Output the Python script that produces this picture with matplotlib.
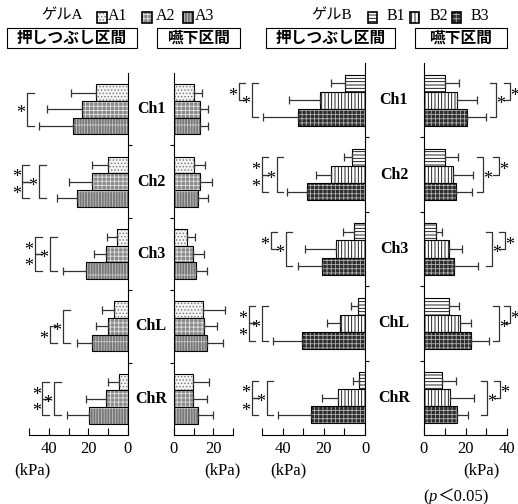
import matplotlib
matplotlib.use('Agg')
import matplotlib.pyplot as plt
import matplotlib.transforms as mtransforms
from matplotlib.patches import Rectangle
import numpy as np

plt.rcParams['font.family'] = ['Liberation Serif', 'Noto Sans CJK JP']
plt.rcParams['hatch.linewidth'] = 0.6

# データ (kPa) : 行 = A1/A2/A3 または B1/B2/B3, 列 = Ch1, Ch2, Ch3, ChL, ChR
channels = ['Ch1', 'Ch2', 'Ch3', 'ChL', 'ChR']
a_names = ['A1', 'A2', 'A3']
b_names = ['B1', 'B2', 'B3']

a_press_mean = [[16, 10, 5.5, 7, 4.5], [23, 18, 11, 10, 11], [28, 26, 21, 18, 19.5]]
a_press_sd = [[13, 8, 5, 6, 5.5], [18, 12, 6, 6, 10], [17, 10, 12, 8, 11.5]]
a_swal_mean = [[10, 10, 6.5, 14.5, 9.5], [13, 13, 9.5, 15, 9.5], [13, 12, 11, 17, 12]]
a_swal_sd = [[4, 6, 4, 11.5, 8.5], [4.5, 6.5, 5.5, 7, 7.5], [4.5, 5.5, 6, 8, 8]]
b_press_mean = [[9.5, 6.5, 5.3, 3.5, 3], [22, 16.5, 14, 12, 13], [32.5, 28, 21, 30.5, 26]]
b_press_sd = [[7, 3.5, 5.4, 3.5, 3], [15, 7.5, 15, 6.5, 8], [17, 10, 11.5, 14, 16]]
b_swal_mean = [[10, 10, 5.8, 12, 8.7], [16, 14, 12, 17.4, 12.6], [20.5, 15.5, 14.5, 22.7, 16]]
b_swal_sd = [[7, 6.5, 3, 5, 6.8], [9.5, 9.5, 6.5, 5.3, 11.4], [9.5, 7.5, 11.5, 8.8, 5]]

# 有意差 (p<0.05): (チャンネル, 群i, 群j)
sig_a_press = [(0, 0, 2), (1, 0, 1), (1, 1, 2), (1, 0, 2), (2, 0, 1), (2, 1, 2), (2, 0, 2),
               (3, 1, 2), (3, 0, 2), (4, 0, 1), (4, 1, 2), (4, 0, 2)]
sig_b_press = [(0, 0, 1), (0, 0, 2), (1, 0, 1), (1, 1, 2), (1, 0, 2), (2, 0, 1), (2, 0, 2),
               (3, 0, 1), (3, 1, 2), (3, 0, 2), (4, 0, 1), (4, 1, 2), (4, 0, 2)]
sig_b_swal = [(0, 0, 2), (0, 0, 1), (1, 0, 2), (1, 0, 1), (2, 0, 2), (2, 0, 1),
              (3, 0, 2), (3, 0, 1), (4, 0, 2), (4, 0, 1)]

# ブラケットの位置 (x, kPa)
pos_a_press = [51, 53.5, 53.5, 45, 47, 47, 39.4, 39.4, 33, 43.4, 43.4, 37.4]
pos_b_press = [61.2, 54.9, 50, 50, 42.7, 45.6, 38.3, 56.3, 56.3, 50, 54.9, 54.9, 47.6]
pos_b_swal = [34.8, 41.5, 28.5, 36.2, 32.8, 39.1, 36.2, 41.5, 30.4, 36.7]

style_a = [dict(fc='#f4f4f4', hatch='.....', hc='#777777'),
           dict(fc='#8a8a8a', hatch='++++', hc='#e2e2e2'),
           dict(fc='#777777', hatch='|||||+', hc='#c4c4c4')]
style_b = [dict(fc='white', hatch='-----', hc='black'),
           dict(fc='white', hatch='|||||', hc='black'),
           dict(fc='#2c2c2c', hatch='++++', hc='#b0b0b0')]

W, H = 518, 504
BH = 0.23
fig = plt.figure(figsize=(W / 100, H / 100), dpi=100)


def px_ax(x0, x1, y0, y1):
    return fig.add_axes([x0 / W, 1 - y1 / H, (x1 - x0) / W, (y1 - y0) / H])


def panel(ax, means, sds, styles, xmax, side, labels):
    y = np.arange(len(channels))
    for k in range(3):
        yy = y + (k - 1) * BH
        st = styles[k]
        ax.barh(yy, means[k], BH, facecolor=st['fc'], edgecolor=st['hc'], hatch=st['hatch'], linewidth=0)
        ax.barh(yy, means[k], BH, fill=False, edgecolor='black', linewidth=0.8)
        ax.errorbar(means[k], yy, xerr=[np.zeros(len(y)), sds[k]], fmt='none', ecolor='#333333',
                    elinewidth=0.9, capsize=3, capthick=0.9)
    ax.set_ylim(4.5, -0.5)
    ax.spines['top'].set_visible(False)
    if side == 'left':
        ax.set_xlim(xmax, 0)
        ax.spines['left'].set_visible(False)
        ax.yaxis.set_ticks_position('right')
    else:
        ax.set_xlim(0, xmax)
        ax.spines['right'].set_visible(False)
        ax.yaxis.set_ticks_position('left')
    for s in ax.spines.values():
        s.set_linewidth(0.8)
    ax.set_yticks([0.5, 1.5, 2.5, 3.5])
    ax.set_yticklabels([])
    ax.tick_params(axis='y', direction='out', length=3, width=0.8)
    ticks = list(range(0, xmax + 1, 10))
    ax.set_xticks(ticks)
    ax.set_xticklabels([str(t) if t in labels else '' for t in ticks])
    ax.tick_params(axis='x', direction='in', length=5, width=0.8, labelsize=12, pad=4)
    ax.patch.set_alpha(0)


def brackets(ax, sig, pos, tick, star_off):
    for (g, i, j), xl in zip(sig, pos):
        y1 = g + (i - 1) * BH
        y2 = g + (j - 1) * BH
        ax.plot([xl - tick, xl, xl, xl - tick], [y1, y1, y2, y2], color='#333333', lw=0.9, clip_on=False)
        ax.annotate('*', (xl + star_off, (y1 + y2) / 2), xytext=(0, -6.6), textcoords='offset points',
                    ha='center', va='baseline', fontsize=13, annotation_clip=False)


ax_ap = px_ax(29, 128, 73, 435)
ax_as = px_ax(174, 233, 73, 435)
ax_bp = px_ax(262, 365, 63, 435)
ax_bs = px_ax(424, 507, 63, 435)

panel(ax_ap, a_press_mean, a_press_sd, style_a, 50, 'left', [0, 20, 40])
panel(ax_as, a_swal_mean, a_swal_sd, style_a, 30, 'right', [0, 20])
panel(ax_bp, b_press_mean, b_press_sd, style_b, 50, 'left', [0, 20, 40])
panel(ax_bs, b_swal_mean, b_swal_sd, style_b, 40, 'right', [0, 20, 40])

brackets(ax_ap, sig_a_press, pos_a_press, 3.5, 3.0)
brackets(ax_bp, sig_b_press, pos_b_press, 3.0, 3.0)
brackets(ax_bs, sig_b_swal, pos_b_swal, 3.0, 2.3)

# チャンネル名
for ax, xc in [(ax_as, 151), (ax_bs, 394)]:
    tr = mtransforms.blended_transform_factory(fig.transFigure, ax.transData)
    for g, name in enumerate(channels):
        fig.text(xc / W, g, name, transform=tr, ha='center', va='center', fontsize=11.5, fontweight='bold')


# 凡例
def swatch(x, y, w, h, st):
    r = Rectangle((x / W, 1 - (y + h) / H), w / W, h / H, transform=fig.transFigure,
                  facecolor=st['fc'], edgecolor=st['hc'], hatch=st['hatch'], linewidth=0)
    fig.add_artist(r)
    fig.add_artist(Rectangle((x / W, 1 - (y + h) / H), w / W, h / H, transform=fig.transFigure,
                             fill=False, edgecolor='black', linewidth=1.2))


fig.text(62 / W, 1 - 15 / H, 'ゲルA', ha='center', va='center', fontsize=11)
fig.text(332 / W, 1 - 15 / H, 'ゲルB', ha='center', va='center', fontsize=11)
for st, name, xs, xl in zip(style_a, a_names, [97, 142, 183], [108, 156, 195]):
    swatch(xs, 12, 10, 11, st)
    fig.text(xl / W, 1 - 16 / H, name, ha='left', va='center', fontsize=11.5)
for st, name, xs, xl in zip(style_b, b_names, [368, 410, 452], [387, 430, 471]):
    swatch(xs, 12, 9, 11, st)
    fig.text(xl / W, 1 - 16 / H, name, ha='left', va='center', fontsize=11.5)

# 区間の見出し
for x0, x1, title in [(7, 137, '押しつぶし区間'), (157, 240, '嚥下区間'),
                      (266, 395, '押しつぶし区間'), (415, 507, '嚥下区間')]:
    fig.add_artist(Rectangle((x0 / W, 1 - 48 / H), (x1 - x0) / W, 20 / H, transform=fig.transFigure,
                             fill=False, edgecolor='black', linewidth=0.8))
    fig.text((x0 + x1) / 2 / W, 1 - 38 / H, title, ha='center', va='center', fontsize=11.3,
             family='Noto Sans CJK JP', fontweight='bold')

# 単位
for xc in [32, 222, 288, 481]:
    fig.text(xc / W, 1 - 470 / H, '(kPa)', ha='center', va='center', fontsize=12)

t1 = fig.text(423 / W, 1 - 497 / H, '(', ha='left', va='center', fontsize=12)
t2 = ax_bs.annotate('p', xy=(1, 0), xycoords=t1, ha='left', va='bottom', fontsize=12,
                    fontstyle='italic', annotation_clip=False)
ax_bs.annotate('＜0.05)', xy=(1, 0), xycoords=t2, ha='left', va='bottom', fontsize=12,
               annotation_clip=False)

fig.savefig('out.png', dpi=100)
